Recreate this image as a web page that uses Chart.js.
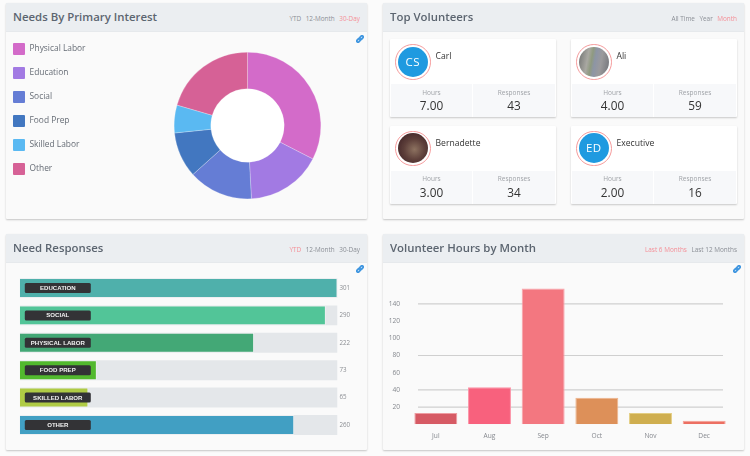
<!DOCTYPE html>
<html>
<head>
<meta charset="utf-8">
<script src="https://cdn.jsdelivr.net/npm/chart.js@4/dist/chart.umd.min.js"></script>
<style>
html, body { margin: 0; padding: 0; background: #fbfbfb; }
#page { position: relative; width: 750px; height: 456px; overflow: hidden; font-family: "Open Sans", sans-serif; filter: blur(0.42px); }
.panel { position: absolute; width: 361px; height: 216px; background: #fafafa; box-shadow: 0 1px 2px rgba(0,0,0,.22); border-radius: 1px; }
.head { position: absolute; left: 0; top: 0; right: 0; height: 28px; background: #ebeef1; border-bottom: 1px solid #e6e9ec; }
.head h2 { position: absolute; left: 7px; top: 5px; margin: 0; font-size: 11.4px; font-weight: 600; line-height: 18px; color: #5c6570; }
.tabs { position: absolute; right: 7px; top: 10.5px; display: flex; gap: 4.5px; font-size: 6.4px; line-height: 10px; color: #8b8f96; white-space: nowrap; }
.tabs .on { color: #f58f97; }
canvas { position: absolute; }
.link { position: absolute; width: 8px; height: 8px; }
.link svg { display: block; }
.key { position: absolute; left: 13px; width: 12px; height: 12px; border-radius: 1px; }
.keyText { position: absolute; left: 29.5px; font-size: 8.4px; line-height: 12px; color: #666c75; }
.card { position: absolute; width: 166px; height: 78px; background: #fff; box-shadow: 0 1px 2px rgba(0,0,0,.2); border-radius: 1px; }
.ring { position: absolute; left: 5px; top: 5px; width: 33.6px; height: 33.6px; border: 1.2px solid #f59b9c; border-radius: 50%; background: #fff; }
.face { position: absolute; left: 1.8px; top: 1.8px; width: 30px; height: 30px; border-radius: 50%; background: #1f9ae0; color: #fff; font-size: 11.5px; line-height: 30px; text-align: center; letter-spacing: .5px; }
.name { position: absolute; left: 45.5px; top: 11px; font-size: 8.6px; line-height: 12px; color: #333; }
.stat { position: absolute; top: 45px; height: 33px; background: #f7f8fa; text-align: center; }
.stat i { position: absolute; left: 0; right: 0; top: 3.5px; font-style: normal; font-size: 6.5px; line-height: 10px; color: #a0a3a8; }
.stat b { position: absolute; left: 0; right: 0; top: 12px; font-weight: 400; font-size: 11.8px; line-height: 18px; color: #333; }
</style>
</head>
<body>
<div id="page">
  <div class="panel" style="left:6px;top:3px">
    <div class="head"><h2>Needs By Primary Interest</h2><div class="tabs"><span>YTD</span><span>12-Month</span><span class="on">30-Day</span></div></div>
  </div>
  <div class="panel" style="left:383px;top:3px">
    <div class="head"><h2>Top Volunteers</h2><div class="tabs"><span>All Time</span><span>Year</span><span class="on">Month</span></div></div>
  </div>
  <div class="panel" style="left:6px;top:234px">
    <div class="head"><h2>Need Responses</h2><div class="tabs"><span class="on">YTD</span><span>12-Month</span><span>30-Day</span></div></div>
  </div>
  <div class="panel" style="left:383px;top:234px">
    <div class="head"><h2>Volunteer Hours by Month</h2><div class="tabs"><span class="on">Last 6 Months</span><span>Last 12 Months</span></div></div>
  </div>
  <canvas id="needsChart" width="147" height="147" style="left:173.5px;top:51.5px;background:radial-gradient(circle closest-side,#fff 50%,transparent 50%)"></canvas>
  <canvas id="responsesChart" width="375" height="190" style="left:0;top:262px"></canvas>
  <canvas id="hoursChart" width="375" height="190" style="left:375px;top:262px"></canvas>
</div>

<script>
// Needs By Primary Interest
const needLabels = ['Physical Labor', 'Education', 'Social', 'Food Prep', 'Skilled Labor', 'Other'];
const needValues = [32.5, 16.6, 14.2, 10, 6.1, 20.5];
const needColors = ['#d36bc9', '#a27ae3', '#657dd5', '#4277c0', '#5ab9f2', '#d66196'];

// Need Responses
const responseLabels = ['EDUCATION', 'SOCIAL', 'PHYSICAL LABOR', 'FOOD PREP', 'SKILLED LABOR', 'OTHER'];
const responseValues = [301, 290, 222, 73, 65, 260];
const responseColors = ['#4fb0ab', '#52c598', '#43a876', '#52b92e', '#afcb45', '#419fc3'];
const responseMax = 301;

// Volunteer Hours by Month
const hourLabels = ['Jul', 'Aug', 'Sep', 'Oct', 'Nov', 'Dec'];
const hourValues = [13, 43, 158, 31, 13, 4];
const hourColors = ['#d65a64', '#f8617d', '#f37780', '#dd9059', '#cfae4f', '#ec6f62'];
const hourBorders = ['#ee9ca1', '#fb92a6', '#f9a3aa', '#eeb48b', '#e3cd82', '#f6a096'];
const hourGridLines = [140, 80, 40, 20]; // the original only shows these four

// Top Volunteers
const volunteerNames = ['Carl', 'Ali', 'Bernadette', 'Executive'];
const volunteerInitials = ['CS', '', '', 'ED'];
const volunteerHours = ['7.00', '4.00', '3.00', '2.00'];
const volunteerResponses = [43, 59, 34, 16];

const page = document.getElementById('page');

function addEl(parent, cls, text, css) {
    const el = document.createElement('div');
    el.className = cls;
    if (text) el.textContent = text;
    if (css) el.style.cssText = css;
    parent.appendChild(el);
    return el;
}

// legend
needLabels.forEach((label, i) => {
    addEl(page, 'key', '', `top:${43 + i * 24}px;background:${needColors[i]}`);
    addEl(page, 'keyText', label, `top:${41.5 + i * 24}px`);
});

// little link icons
[[355.5, 34.7], [355.5, 265], [732.5, 265]].forEach(pos => {
    const holder = addEl(page, 'link', '', `left:${pos[0]}px;top:${pos[1]}px`);
    holder.innerHTML = '<svg width="8" height="8" viewBox="0 0 8 8"><g transform="rotate(-45 4 4)" fill="none" stroke="#3f96e0" stroke-width="1.8"><rect x="0" y="2.8" width="4" height="2.4" rx="1.2"/><rect x="4" y="2.8" width="4" height="2.4" rx="1.2"/></g></svg>';
});

// volunteer cards
const cardX = [390, 571];
const cardY = [39, 125.7];
const photos = {
    Ali: 'linear-gradient(100deg,#6f7170 0%,#a9a8a2 30%,#8f9a80 42%,#8d95a5 52%,#9b9a9c 70%,#707278 100%)',
    Bernadette: 'radial-gradient(circle at 55% 55%,#8d7260 0%,#5d3f3a 45%,#35191f 100%)'
};
volunteerNames.forEach((name, i) => {
    const card = addEl(page, 'card', '', `left:${cardX[i % 2]}px;top:${cardY[i >> 1]}px`);
    const ring = addEl(card, 'ring');
    const face = addEl(ring, 'face', volunteerInitials[i]);
    if (photos[name]) face.style.background = photos[name];
    addEl(card, 'name', name);
    const hours = addEl(card, 'stat', '', 'left:1px;width:81px');
    addEl(hours, '', '').outerHTML = `<i>Hours</i><b>${volunteerHours[i]}</b>`;
    const resp = addEl(card, 'stat', '', 'left:83px;width:82px');
    addEl(resp, '', '').outerHTML = `<i>Responses</i><b>${volunteerResponses[i]}</b>`;
});

Chart.defaults.animation = false;
Chart.defaults.responsive = false;
Chart.defaults.font.family = '"Open Sans", sans-serif';

new Chart(document.getElementById('needsChart'), {
    type: 'doughnut',
    data: {
        labels: needLabels,
        datasets: [{ data: needValues, backgroundColor: needColors, borderColor: '#fafafa', borderWidth: 0.25 }]
    },
    options: {
        cutout: '50%',
        plugins: { legend: { display: false }, tooltip: { enabled: false } }
    }
});

// dark pills and the numbers next to the bars
const responseLabelsPlugin = {
    id: 'responseLabels',
    afterDatasetsDraw(chart) {
        const ctx = chart.ctx;
        const y = chart.scales.y;
        const x = chart.scales.x;
        responseLabels.forEach((label, i) => {
            const cy = y.getPixelForValue(i);
            ctx.save();
            ctx.fillStyle = '#333336';
            ctx.beginPath();
            ctx.roundRect(x.left + 5, cy - 5, 66, 10, 1.5);
            ctx.fill();
            ctx.fillStyle = '#f2f2f2';
            ctx.font = 'bold 6.1px "Liberation Sans"';
            ctx.textAlign = 'center';
            ctx.textBaseline = 'middle';
            ctx.fillText(label, x.left + 38, cy + 0.3);
            ctx.fillStyle = '#8a8d92';
            ctx.font = '6.2px "Open Sans"';
            ctx.textAlign = 'left';
            ctx.fillText(responseValues[i], x.right + 2, cy);
            ctx.restore();
        });
    }
};

new Chart(document.getElementById('responsesChart'), {
    type: 'bar',
    data: {
        labels: responseLabels,
        datasets: [
            { data: responseValues, backgroundColor: responseColors, borderColor: '#ffffff55', borderWidth: 1, order: 1 },
            { data: responseValues.map(() => responseMax), backgroundColor: '#e4e7ea', order: 2 }
        ]
    },
    options: {
        indexAxis: 'y',
        layout: { padding: { left: 19.8, right: 37.5, top: 12.3, bottom: 13.4 } },
        datasets: { bar: { grouped: false, barPercentage: 0.73, categoryPercentage: 1 } },
        scales: {
            x: { display: false, min: 0, max: responseMax },
            y: { display: false }
        },
        plugins: { legend: { display: false }, tooltip: { enabled: false } }
    },
    plugins: [responseLabelsPlugin]
});

// grid lines are shorter than the bar row in the original, so drawn here
const hourGridPlugin = {
    id: 'hourGrid',
    beforeDatasetsDraw(chart) {
        const ctx = chart.ctx;
        const y = chart.scales.y;
        ctx.save();
        ctx.strokeStyle = '#cfcfcf';
        ctx.lineWidth = 1.2;
        hourGridLines.forEach(v => {
            const py = y.getPixelForValue(v);
            ctx.beginPath();
            ctx.moveTo(chart.chartArea.left + 9, py);
            ctx.lineTo(chart.chartArea.right - 8, py);
            ctx.stroke();
        });
        ctx.restore();
    }
};

new Chart(document.getElementById('hoursChart'), {
    type: 'bar',
    data: {
        labels: hourLabels,
        datasets: [{ data: hourValues, backgroundColor: hourColors, borderColor: hourBorders, borderWidth: 1 }]
    },
    options: {
        layout: { padding: { right: 19, top: 24.7 } },
        datasets: { bar: { barPercentage: 0.8, categoryPercentage: 1 } },
        scales: {
            x: {
                grid: { display: false },
                border: { display: false },
                afterFit(scale) { scale.height = 27.7; },
                ticks: { color: '#85888e', font: { size: 6.6 }, padding: 0 }
            },
            y: {
                min: 0,
                max: 160,
                grid: { display: false },
                border: { display: false },
                afterFit(scale) { scale.width = 34; },
                ticks: {
                    stepSize: 20,
                    color: '#85888e',
                    font: { size: 6.6 },
                    padding: 1,
                    callback: v => (v === 0 || v === 160) ? '' : v
                }
            }
        },
        plugins: { legend: { display: false }, tooltip: { enabled: false } }
    },
    plugins: [hourGridPlugin]
});
</script>
</body>
</html>
